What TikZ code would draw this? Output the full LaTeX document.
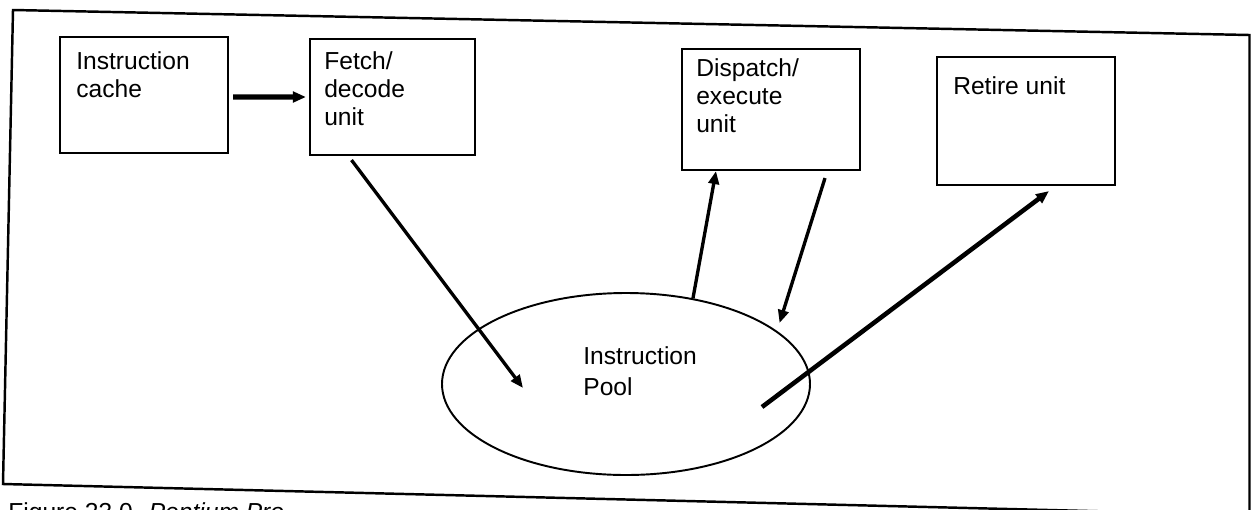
\documentclass[tikz,border=0pt]{standalone}
\usepackage{fontspec}
\setsansfont{Liberation Sans}
\usetikzlibrary{arrows.meta,positioning,shapes.geometric}

\begin{document}
\begin{tikzpicture}[
  font=\sffamily\fontsize{14}{16}\selectfont,
  >={Triangle[length=0.26cm,width=0.21cm]},
  unit/.style={draw,line width=1.2pt,inner sep=0pt},
  txt/.style={anchor=north west,inner sep=0pt,align=left},
  flow/.style={->,line width=1.9pt},
  bigflow/.style={->,line width=3pt}
]
\useasboundingbox (0,0) rectangle (25.02,-10.18);
\clip (0,0) rectangle (25.02,-10.18);

% scanned outer frame
\draw[line width=1.4pt] (0.26,-0.20) -- (24.99,-0.70) -- (24.99,-10.30) -- (0.06,-9.68) -- cycle;

\node[unit,minimum width=3.36cm,minimum height=2.32cm] (icache) at (2.88,-1.90) {};
\node[unit,minimum width=3.30cm,minimum height=2.32cm] (fetch) at (7.85,-1.94) {};
\node[unit,minimum width=3.56cm,minimum height=2.42cm] (dispatch) at (15.42,-2.19) {};
\node[unit,minimum width=3.56cm,minimum height=2.56cm] (retire) at (20.52,-2.42) {};
\node[ellipse,draw,line width=1.1pt,inner sep=0pt,minimum width=7.36cm,minimum height=3.64cm] (pool) at (12.52,-7.68) {};

\node[txt] (icachetxt) at ([shift={(0.34cm,-0.30cm)}]icache.north west) {Instruction\\cache};
\node[txt] (fetchtxt) at ([shift={(0.30cm,-0.26cm)}]fetch.north west) {Fetch/\\decode\\unit};
\node[txt] (dispatchtxt) at ([shift={(0.30cm,-0.20cm)}]dispatch.north west) {Dispatch/\\execute\\unit};
\node[txt] (retiretxt) at ([shift={(0.34cm,-0.40cm)}]retire.north west) {Retire unit};
\node[txt] (pooltxt) at ([shift={(-0.86cm,0.76cm)}]pool.center) {Instruction\\[2pt]Pool};

\draw[bigflow,shorten <=0.08cm,shorten >=0.06cm] ([yshift=-0.04cm]icache.east) -- (fetch.west);
\draw[flow] ([shift={(-0.82cm,-0.08cm)}]fetch.south) -- ([shift={(-2.06cm,-0.08cm)}]pool.center);
\draw[flow] (pool.52) -- ([xshift=-1.1cm]dispatch.south);
\draw[flow] ([shift={(1.08cm,-0.14cm)}]dispatch.south) -- ([shift={(0.2cm,0.06cm)}]pool.22);
\draw[bigflow,line width=2.6pt] ([shift={(2.72cm,-0.46cm)}]pool.center) -- ([shift={(0.46cm,-0.1cm)}]retire.south);

\node[anchor=north west,inner sep=0pt] (caption) at (0.16,-10.04) {Figure 23.0. \textit{Pentium Pro}};
\end{tikzpicture}
\end{document}
